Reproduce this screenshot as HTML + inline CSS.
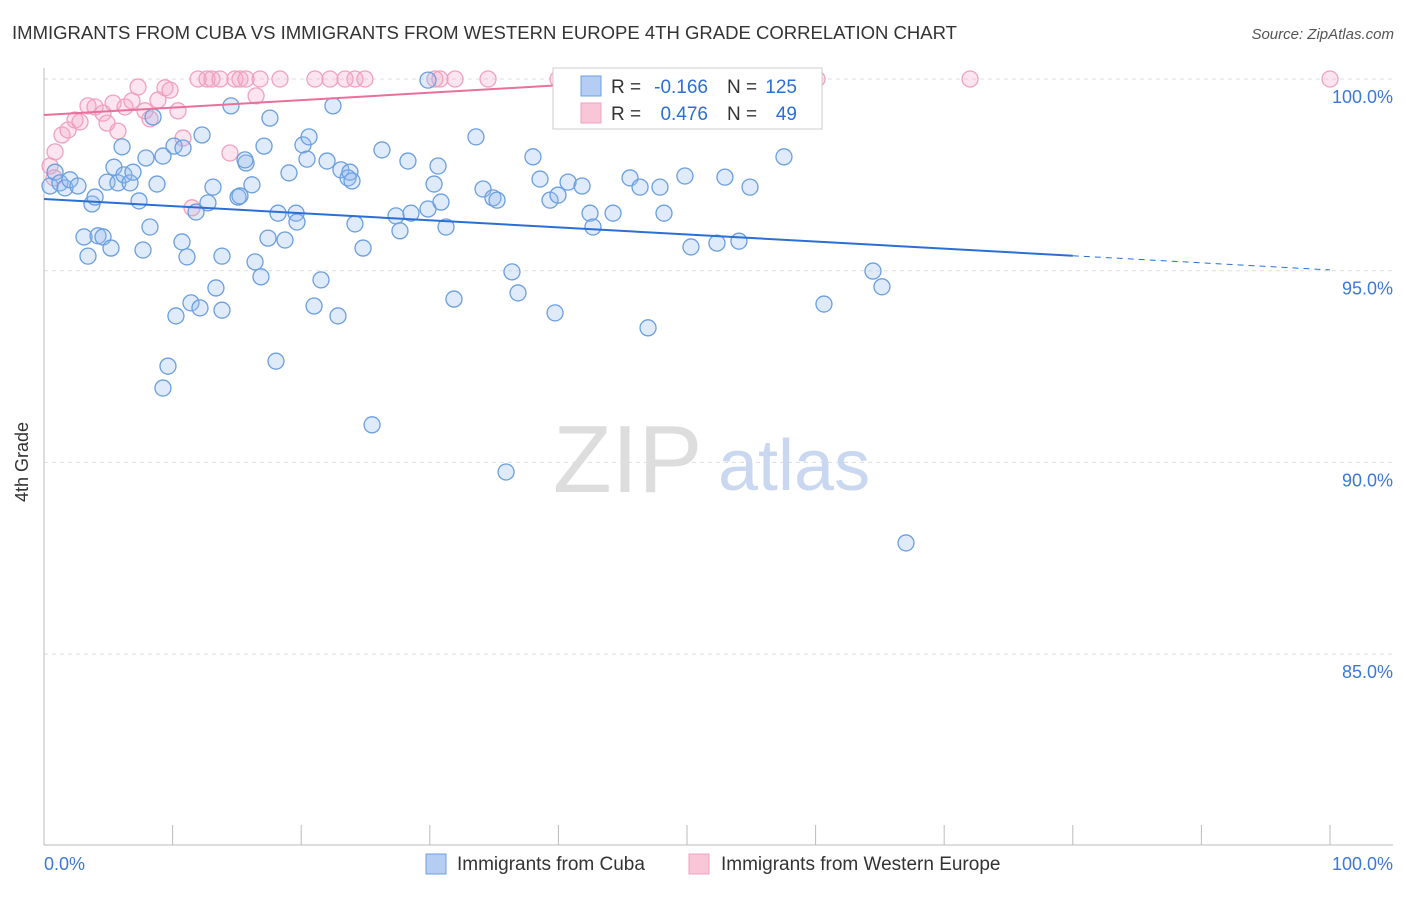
<!DOCTYPE html>
<html><head><meta charset="utf-8"><style>
body{margin:0;background:#fff;font-family:"Liberation Sans",sans-serif}
svg text{font-family:"Liberation Sans",sans-serif}
</style></head><body>
<svg width="1406" height="892">
<text x="12" y="39" font-size="18" fill="#333" textLength="945" lengthAdjust="spacingAndGlyphs">IMMIGRANTS FROM CUBA VS IMMIGRANTS FROM WESTERN EUROPE 4TH GRADE CORRELATION CHART</text>
<text x="1394" y="39" font-size="15" fill="#555" font-style="italic" text-anchor="end">Source: ZipAtlas.com</text>
<g id="grid"></g>
<g>
<text x="553" y="492" font-size="96" font-family="Liberation Serif" fill="#ddd">ZIP</text>
<text x="718" y="490" font-size="72" fill="#c9d8f0">atlas</text></g>
<line x1="44" y1="68" x2="44" y2="845" stroke="#bbb"/>
<line x1="44" y1="845" x2="1393" y2="845" stroke="#bbb"/>
<g id="ticks"></g>
<text x="22" y="456" font-size="18" fill="#333" transform="rotate(-90 28 456)" text-anchor="middle">4th Grade</text>
<text x="44" y="870" font-size="18" fill="#3b78d8">0.0%</text>
<text x="1393" y="870" font-size="18" fill="#3b78d8" text-anchor="end">100.0%</text>
<g id="pts"></g>
<g id="trend"></g>
<g>
<rect x="553" y="68" width="269" height="61" fill="#fff" stroke="#ccc"/>
<rect x="581" y="76" width="20" height="20" fill="#b5cdf3" stroke="#6a9fe0"/>
<rect x="581" y="103" width="20" height="20" fill="#f9c6d8" stroke="#f0a0bf"/>
<text x="611" y="93" font-size="19" fill="#333">R =</text>
<text x="708" y="93" font-size="19" fill="#2a6fd6" text-anchor="end">-0.166</text>
<text x="727" y="93" font-size="19" fill="#333">N =</text>
<text x="797" y="93" font-size="19" fill="#2a6fd6" text-anchor="end">125</text>
<text x="611" y="120" font-size="19" fill="#333">R =</text>
<text x="708" y="120" font-size="19" fill="#2a6fd6" text-anchor="end">0.476</text>
<text x="727" y="120" font-size="19" fill="#333">N =</text>
<text x="797" y="120" font-size="19" fill="#2a6fd6" text-anchor="end">49</text>
</g>
<g>
<rect x="426" y="854" width="20" height="20" fill="#b5cdf3" stroke="#6a9fe0"/>
<text x="457" y="870" font-size="19" fill="#333">Immigrants from Cuba</text>
<rect x="689" y="854" width="20" height="20" fill="#f9c6d8" stroke="#f0a0bf"/>
<text x="721" y="870" font-size="19" fill="#333">Immigrants from Western Europe</text>
</g>
</svg>
<script>
const yTicks=[100,95,90,85];
const yTickLabels=["100.0%","95.0%","90.0%","85.0%"];
const xTicks=[0,10,20,30,40,50,60,70,80,90,100];
const cubaX=[0.47,0.86,1.24,1.63,2.02,2.64,3.73,3.97,3.11,3.42,4.20,4.59,5.21,4.90,5.44,5.75,6.22,6.69,6.07,6.92,7.39,7.93,8.24,7.70,8.48,8.79,9.25,10.11,10.81,10.73,11.12,9.64,9.25,10.26,11.43,12.13,12.29,11.82,12.75,13.14,13.84,13.37,13.84,14.54,15.09,15.24,15.71,15.63,16.17,16.41,16.87,17.11,17.57,17.42,18.20,18.74,19.05,18.04,19.60,19.67,20.14,20.61,20.45,21.00,21.54,22.01,22.47,22.86,23.09,23.64,23.79,23.95,24.18,24.81,25.51,26.28,27.37,27.68,28.30,28.54,29.86,30.33,30.64,30.87,31.26,31.88,29.86,33.59,34.14,34.91,35.23,36.39,36.86,35.93,38.02,38.57,39.35,39.74,39.97,40.75,41.84,42.46,42.69,44.25,45.57,46.35,46.97,47.90,48.21,49.84,50.31,52.33,52.95,54.04,54.90,57.54,60.65,64.46,65.16,67.03,59.56];
const cubaY=[97.21,97.57,97.29,97.16,97.37,97.21,96.74,96.92,95.88,95.38,95.91,95.88,95.59,97.31,97.70,97.29,97.50,97.29,98.23,97.57,96.82,97.94,96.14,95.54,99.01,97.26,97.99,98.25,98.20,95.75,95.36,92.51,91.94,93.82,94.16,94.03,98.54,96.53,96.77,97.18,93.97,94.55,95.38,99.30,96.92,96.95,97.81,97.89,97.24,95.23,94.84,98.25,98.98,95.85,96.50,95.80,97.55,92.64,96.50,96.27,98.28,98.49,97.91,94.08,94.76,97.86,99.30,93.82,97.63,97.42,97.57,97.34,96.22,95.59,90.98,98.15,96.43,96.04,97.86,96.50,96.61,97.26,97.73,96.79,96.14,94.26,99.97,98.49,97.13,96.90,96.84,94.97,94.42,89.75,97.97,97.39,96.84,93.90,96.97,97.31,97.21,96.50,96.14,96.50,97.42,97.18,93.51,97.18,96.50,97.47,95.62,95.72,97.44,95.77,97.18,97.97,94.13,94.99,94.58,87.90,99.97];
const weX=[0.47,0.86,0.78,1.40,1.87,2.41,2.80,3.42,3.97,4.59,4.90,5.37,5.75,6.30,6.84,7.31,7.85,8.24,8.86,9.41,9.80,10.42,10.81,11.51,11.98,12.67,13.06,13.69,14.46,14.85,15.24,15.71,16.49,16.80,18.35,21.07,22.24,23.41,24.18,24.96,30.40,31.96,34.53,39.97,47.90,60.11,72.01,100,30.79];
const weY=[97.73,98.10,97.42,98.54,98.67,98.93,98.88,99.30,99.27,99.11,98.85,99.37,98.64,99.27,99.43,99.79,99.17,98.96,99.45,99.77,99.71,99.17,98.46,96.64,100,100,100,100,98.07,100,100,100,99.56,100,100,100,100,100,100,100,100,100,100,100,100,100,100,100,100];
const cubaTrend=[96.87,95.02];
const weTrend=[99.06,0.0194];
const sx=v=>44+v*12.86, sy=v=>79+(100-v)*38.34;
const NS="http://www.w3.org/2000/svg";
function mk(t,a,p){const e=document.createElementNS(NS,t);for(const k in a)e.setAttribute(k,a[k]);p.appendChild(e);return e;}
const grid=document.getElementById('grid');
yTicks.forEach((t,i)=>{
 const l=mk('line',{x1:44,x2:1393,y1:sy(t),y2:sy(t),stroke:'#ddd','stroke-dasharray':'4,4'},grid);
 
 
 const tx=mk('text',{x:1393,y:sy(t)+24,'font-size':18,fill:'#3b78d8','text-anchor':'end'},grid);
 tx.textContent=yTickLabels[i];
 
 
});
const tk=document.getElementById('ticks');
xTicks.forEach(t=>{const l=mk('line',{x1:sx(t),x2:sx(t),y1:825,y2:845,stroke:'#bbb'},tk);
 
 });
const pts=document.getElementById('pts');
weX.forEach((x,i)=>{const c=mk('circle',{cx:sx(x),cy:sy(weY[i]),r:8,fill:'rgba(245,170,200,0.3)',stroke:'#f0a0bf','stroke-width':1.3},pts);
 
 });
cubaX.forEach((x,i)=>{const c=mk('circle',{cx:sx(x),cy:sy(cubaY[i]),r:8,fill:'rgba(150,185,240,0.3)',stroke:'#6a9fe0','stroke-width':1.3},pts);
 
 });
const tr=document.getElementById('trend');
const cy=x=>cubaTrend[0]+(cubaTrend[1]-cubaTrend[0])*x/100;
let l1=mk('line',{x1:sx(0),y1:sy(cy(0)),x2:sx(80),y2:sy(cy(80)),stroke:'#2a6fd6','stroke-width':2},tr);


let l2=mk('line',{x1:sx(80),y1:sy(cy(80)),x2:sx(100),y2:sy(cy(100)),stroke:'#2a6fd6','stroke-width':1,'stroke-dasharray':'6,5'},tr);


const wy=x=>weTrend[0]+weTrend[1]*x;
let l3=mk('line',{x1:sx(0),y1:sy(wy(0)),x2:sx(40),y2:sy(wy(40)),stroke:'#e8709a','stroke-width':2},tr);


</script>
</body></html>
